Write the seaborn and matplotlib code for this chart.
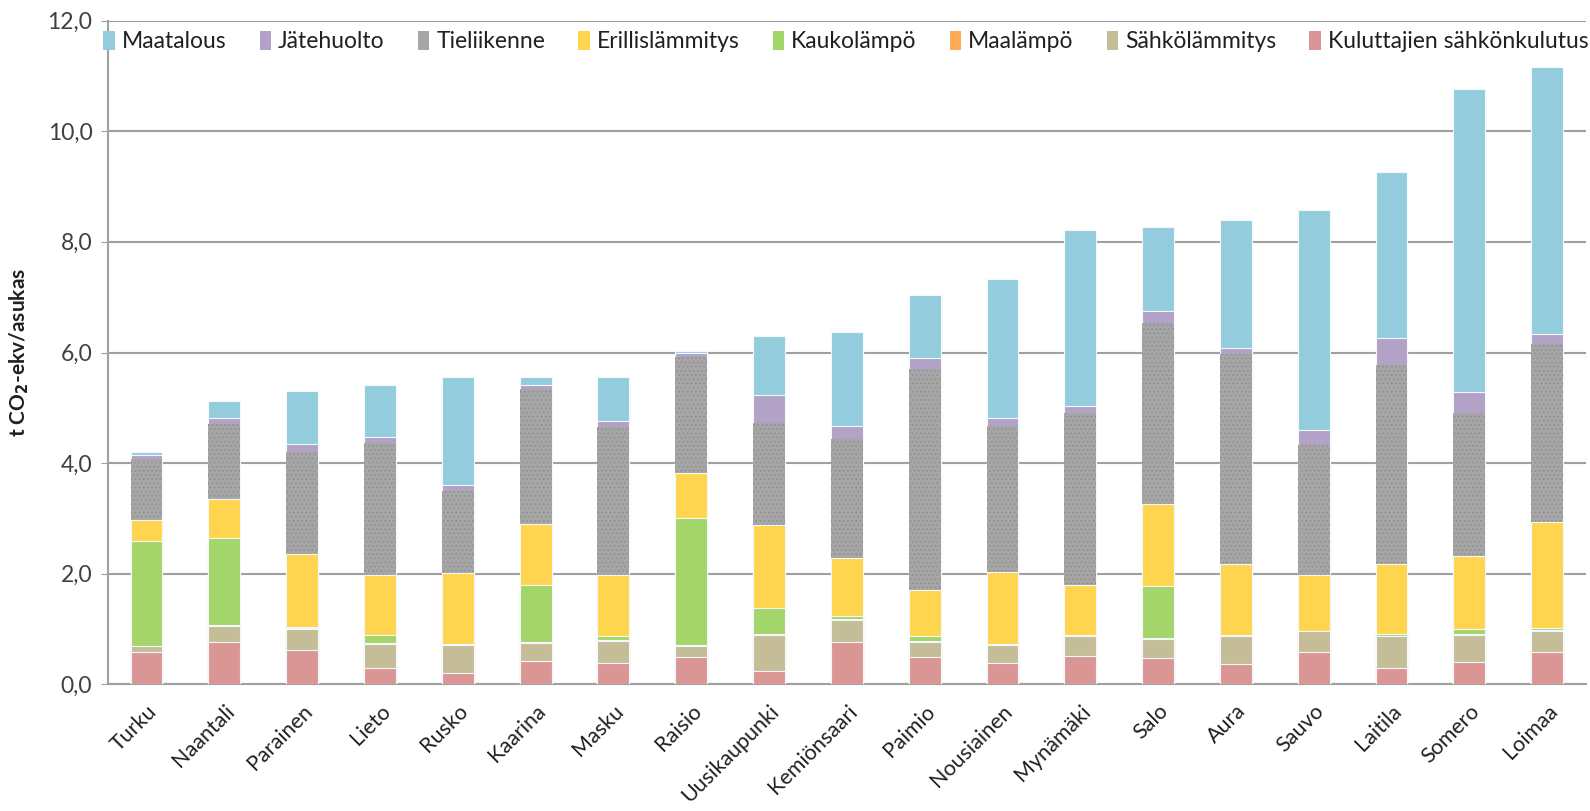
import matplotlib
matplotlib.use("Agg")
import matplotlib.pyplot as plt
import seaborn as sns
import numpy as np
import pandas as pd
from matplotlib.patches import Patch
from matplotlib.ticker import FuncFormatter, FixedLocator

municipalities = ["Turku", "Naantali", "Parainen", "Lieto", "Rusko", "Kaarina", "Masku",
                  "Raisio", "Uusikaupunki", "Kemiönsaari", "Paimio", "Nousiainen",
                  "Mynämäki", "Salo", "Aura", "Sauvo", "Laitila", "Somero", "Loimaa"]

# bottom -> top
kuluttajien = [0.58, 0.77, 0.62, 0.30, 0.21, 0.42, 0.39, 0.49, 0.24, 0.77, 0.49, 0.39, 0.52, 0.47, 0.37, 0.58, 0.29, 0.41, 0.58]
sahkolammitys = [0.12, 0.29, 0.38, 0.44, 0.50, 0.33, 0.40, 0.21, 0.65, 0.40, 0.28, 0.32, 0.36, 0.36, 0.50, 0.39, 0.58, 0.49, 0.38]
maalampo = [0.00, 0.02, 0.02, 0.01, 0.02, 0.02, 0.02, 0.01, 0.02, 0.02, 0.02, 0.01, 0.00, 0.01, 0.00, 0.00, 0.01, 0.02, 0.02]
kaukolampo = [1.89, 1.56, 0.02, 0.14, 0.00, 1.03, 0.07, 2.30, 0.47, 0.04, 0.09, 0.02, 0.02, 0.94, 0.02, 0.00, 0.04, 0.08, 0.04]
erillislammitys = [0.39, 0.72, 1.32, 1.09, 1.28, 1.10, 1.10, 0.81, 1.51, 1.05, 0.83, 1.29, 0.90, 1.49, 1.29, 1.00, 1.26, 1.32, 1.91]
tieliikenne = [1.10, 1.35, 1.84, 2.38, 1.48, 2.44, 2.68, 2.10, 1.83, 2.15, 3.99, 2.64, 3.11, 3.26, 3.79, 2.36, 3.59, 2.59, 3.22]
jatehuolto = [0.07, 0.10, 0.15, 0.11, 0.12, 0.08, 0.10, 0.07, 0.51, 0.25, 0.20, 0.14, 0.13, 0.22, 0.12, 0.27, 0.50, 0.38, 0.18]
maatalous = [0.05, 0.31, 0.96, 0.95, 1.94, 0.13, 0.80, 0.04, 1.07, 1.69, 1.14, 2.51, 3.18, 1.51, 2.30, 3.98, 3.00, 5.47, 4.83]

series_names = ["Kuluttajien sähkönkulutus", "Sähkölämmitys", "Maalämpö", "Kaukolämpö",
                "Erillislämmitys", "Tieliikenne", "Jätehuolto", "Maatalous"]
series_values = [kuluttajien, sahkolammitys, maalampo, kaukolampo,
                 erillislammitys, tieliikenne, jatehuolto, maatalous]
colors = ["#D99694", "#C4BD97", "#FFAB57", "#A3D56B", "#FFD54F", "#A6A6A6", "#B3A2C7", "#93CDDD"]

y_ticks = [0, 2, 4, 6, 8, 10, 12]

sns.set_style("white")
plt.rcParams['font.family'] = ['Lato', 'DejaVu Sans']
plt.rcParams['hatch.linewidth'] = 0.6

df = pd.DataFrame({name: vals for name, vals in zip(series_names, series_values)})
df["Kunta"] = municipalities
cum = df[series_names].cumsum(axis=1)
cum["Kunta"] = municipalities

fig = plt.figure(figsize=(15.9, 8.11), dpi=100)
ax = fig.add_axes([0.0677, 0.156, 0.9298, 0.8187])

# draw cumulative totals from the top layer down so lower layers overlay
for name, col in reversed(list(zip(series_names, colors))):
    n_before = len(ax.patches)
    sns.barplot(data=cum, x="Kunta", y=name, color=col, order=municipalities,
                width=0.41, ax=ax, saturation=1, edgecolor="#F4F8FA", linewidth=0.8,
                zorder=3)
    if name == "Tieliikenne":
        for p in ax.patches[n_before:]:
            p.set_edgecolor("#8E8E8E")
            p.set_hatch("....")
            p.set_linewidth(0)

ax.set_ylim(0, 12)
ax.set_xlim(-0.5, len(municipalities) - 0.5)
ax.yaxis.set_major_locator(FixedLocator(y_ticks))
ax.yaxis.set_major_formatter(FuncFormatter(lambda v, p: f"{v:.1f}".replace(".", ",")))
ax.grid(axis="y", color="#A0A0A0", linewidth=1.5, zorder=0)
ax.set_axisbelow(True)

for s in ["top", "right"]:
    ax.spines[s].set_visible(False)
for s in ["left", "bottom"]:
    ax.spines[s].set_color("#A0A0A0")
    ax.spines[s].set_linewidth(1.5)

ax.tick_params(axis="y", which="major", length=5, color="#A0A0A0", labelsize=16.5,
               labelcolor="#404040", left=True, pad=6)
ax.set_xticks(np.arange(len(municipalities)))
ax.set_xticklabels(municipalities, rotation=45, ha="right", rotation_mode="anchor",
                   fontsize=15.5, color="#202020")
ax.tick_params(axis="x", which="major", length=0, pad=12)
ax.set_xticks(np.arange(len(municipalities) + 1) - 0.5, minor=True)
ax.tick_params(axis="x", which="minor", length=6, color="#A0A0A0", width=1.2)

ax.set_xlabel("")
ax.set_ylabel(r"t CO$_\mathbf{2}$-ekv/asukas", fontsize=15, fontweight="bold", labelpad=12,
              color="#202020")

handles = [Patch(facecolor=c, edgecolor="none", label=n)
           for n, c in reversed(list(zip(series_names, colors)))]
fig.legend(handles=handles, loc="center", bbox_to_anchor=(0.532, 0.949), ncol=8,
           frameon=False, fontsize=16.5, handlelength=0.5, handleheight=0.9,
           handletextpad=0.3, columnspacing=1.45, labelcolor="#202020")

fig.savefig("out.png", dpi=100)
